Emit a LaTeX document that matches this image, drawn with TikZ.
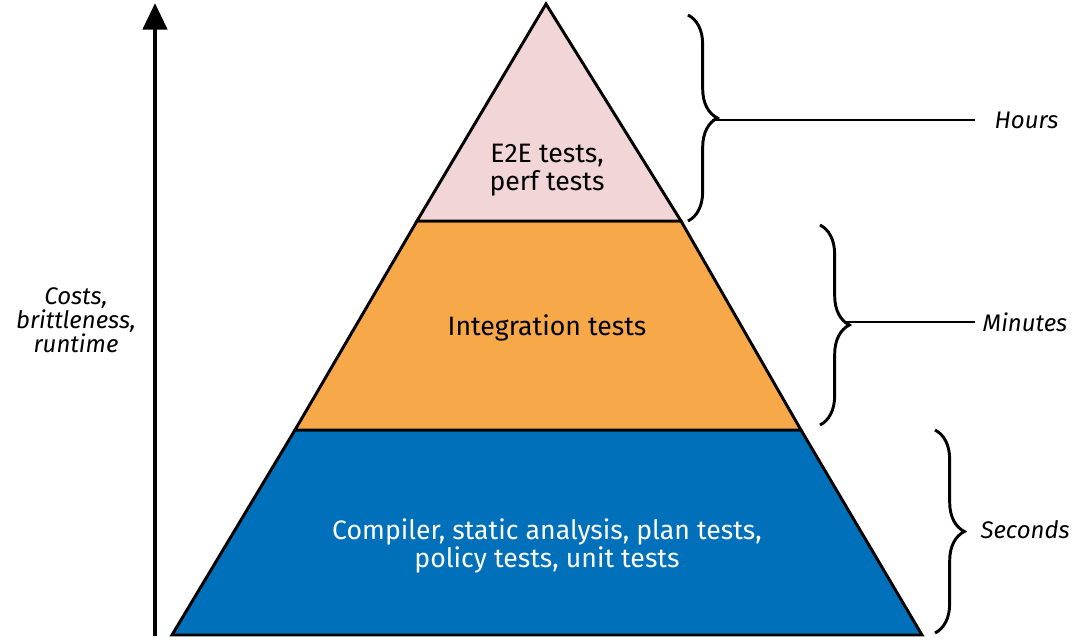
\documentclass[tikz,border=0pt]{standalone}
\usepackage{fontspec}
\setmainfont{Fira Sans}
\usetikzlibrary{decorations.pathreplacing,arrows.meta}
\definecolor{pinkc}{HTML}{F2D5D6}
\definecolor{orangec}{HTML}{F7A94A}
\definecolor{bluec}{HTML}{0070BA}
\begin{document}
\begin{tikzpicture}[x=0.75pt,y=-0.75pt,
  tier/.style={draw=black,line width=2.2pt,line join=miter},
  lbl/.style={font=\fontsize{20}{24}\selectfont,align=center},
  side/.style={font=\fontsize{18}{21}\selectfont\itshape,align=center},
  br/.style={decorate,decoration={brace,amplitude=22pt},line width=2.2pt},
  lead/.style={line width=2.2pt}]
\useasboundingbox (0,0) rectangle (1085,639);
\coordinate (A) at (546,4);
\coordinate (L1) at (417,221); \coordinate (R1) at (681,221);
\coordinate (L2) at (295,430); \coordinate (R2) at (801,430);
\coordinate (L3) at (172,635); \coordinate (R3) at (922,635);
\filldraw[tier,fill=bluec] (L2)--(R2)--(R3)--(L3)--cycle;
\filldraw[tier,fill=orangec] (L1)--(R1)--(R2)--(L2)--cycle;
\filldraw[tier,fill=pinkc] (A)--(R1)--(L1)--cycle;
\node[lbl] (t1) at (547,170) {E2E tests,\\[-3pt]perf tests};
\node[lbl] (t2) at (547,328) {Integration tests};
\node[lbl,text=white] (t3) at (547,546) {Compiler, static analysis, plan tests,\\[-3pt]policy tests, unit tests};
\coordinate (a0) at (155,636); \coordinate (a1) at (155,3);
\draw[line width=3.5pt,-{Triangle[length=20pt,width=18pt]}] (a0)--(a1);
\node[side] (cost) at (76,320) {Costs,\\[-3pt]brittleness,\\[-3pt]runtime};
\draw[br] (688,15)--(688,221);
\coordinate (b1) at (712,120); \coordinate (e1) at (975,120);
\draw[lead] (b1)--(e1);
\node[side,anchor=west] (h) at (990,120) {Hours};
\draw[br] (820,225)--(820,425);
\coordinate (b2) at (845,322); \coordinate (e2) at (975,322);
\draw[lead] (b2)--(e2);
\node[side,anchor=west] (m) at (978,322) {Minutes};
\draw[br] (935,430)--(935,633);
\node[side,anchor=west] (s) at (976,530) {Seconds};
\end{tikzpicture}
\end{document}
